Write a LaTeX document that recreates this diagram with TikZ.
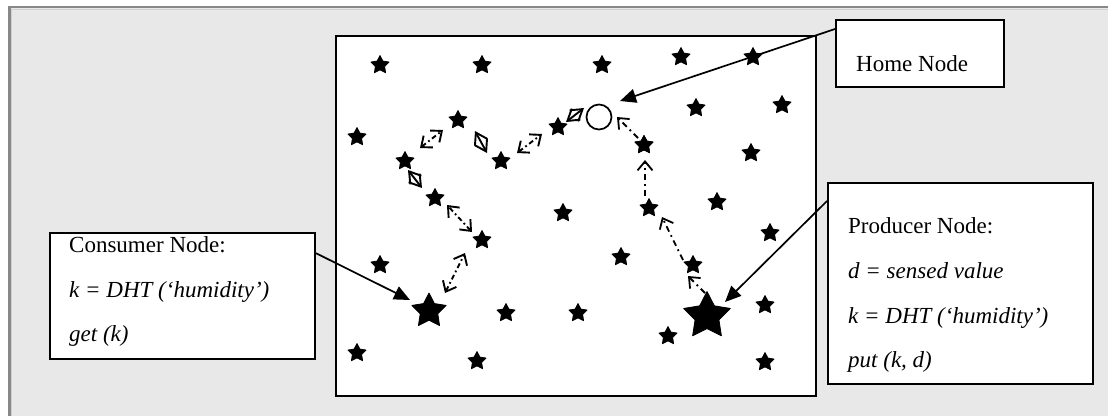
\documentclass[tikz,border=0pt]{standalone}
\usepackage{fontspec}
\setmainfont{Liberation Serif}
\usetikzlibrary{arrows.meta,shapes.geometric,calc}
\definecolor{bgray}{HTML}{E8E8E8}
\definecolor{fgray}{HTML}{888888}
\begin{document}
\begin{tikzpicture}[x=1pt,y=-1pt,
  sstar/.style={shape=star, star points=5, star point ratio=1.95, fill=black, draw=black, line width=0.8pt, line join=round, inner sep=0pt, minimum size=19pt},
  bstar/.style={sstar, minimum size=#1},
  box/.style={draw=black, fill=white, line width=1.6pt, inner sep=0pt, anchor=north west},
  txt/.style={anchor=base west, inner sep=0pt, font=\fontsize{23pt}{27pt}\selectfont},
  link/.style={line width=1.9pt, dash pattern=on 5pt off 3pt on 1.8pt off 3pt,
    {Straight Barb[length=9pt,width=15pt]}-{Straight Barb[length=9pt,width=15pt]}},
  dlink/.style={line width=1.9pt,
    {Straight Barb[length=11pt,width=14pt]}-{Straight Barb[length=11pt,width=14pt]}},
  plink/.style={line width=1.8pt, dash pattern=on 6pt off 4pt on 1.8pt off 4pt,
    -{Straight Barb[length=9pt,width=15pt]}},
  ptr/.style={line width=1.7pt, -{Triangle[length=16pt,width=14pt]}}
]
\useasboundingbox (0,0) rectangle (1108,416);
% background frame
\fill[white] (0,0) rectangle (1108,416);
\fill[bgray] (9,7) rectangle (1108,416);
\draw[fgray, line width=2.5pt] (9.5,416) -- (9.5,7) -- (1108,7);
\draw[black!18, line width=0.8pt] (11.5,416) -- (11.5,9) -- (1108,9);

% field
\node[box, line width=1.8pt, minimum width=480pt, minimum height=360pt] (field) at (335,35) {};

% small stars
\foreach \x/\y [count=\i] in {380/65,482/65,602/65,681/57,753/57,696/108,782/105,357/137,
  644/145,751/153,563/213,717/202,770/233,621/257,380/265,506/313,578/313,668/336,
  765/305,765/362,357/353,477/361}
  \node[sstar] (s\i) at (\x,\y) {};
% path stars
\node[sstar] (cA) at (482,240) {};
\node[sstar] (cB) at (435,198) {};
\node[sstar] (cC) at (405,161) {};
\node[sstar] (cD) at (458,120) {};
\node[sstar] (cE) at (501,161) {};
\node[sstar] (cF) at (558,127) {};
\node[sstar] (pA) at (693,265) {};
\node[sstar] (pB) at (649,208) {};
\node[sstar] (pC) at (644,145) {};
% big stars
\node[bstar=36pt] (cons) at (429,311) {};
\node[bstar=49pt] (prod) at (707,316) {};
% home node
\node[draw, circle, line width=1.7pt, minimum size=25pt, inner sep=0pt] (home) at (599,117) {};

% consumer path links
\draw[link] ($(cons)+(16,-18)$) -- ($(cons)+(36,-58)$);
\draw[link] ($(cA)+(-10,-8)$) -- ($(cA)+(-35,-35)$);
\draw[dlink] ($(cC)+(3,9)$) -- ($(cC)+(17,27)$);
\draw[link] ($(cC)+(15,-13)$) -- ($(cC)+(38,-31)$);
\draw[dlink] ($(cD)+(17,11)$) -- ($(cD)+(29,33)$);
\draw[link] ($(cE)+(16,-8)$) -- ($(cE)+(41,-27)$);
\draw[dlink] ($(cF)+(8,-5)$) -- ($(cF)+(26,-19)$);

% producer path links
\draw[plink] ($(prod)+(-2,-23)$) -- ($(prod)+(-19,-40)$);
\draw[plink] ($(pA)+(-10,-5)$) -- ($(pA)+(-31,-48)$);
\draw[plink] ($(pB)+(-4,-12)$) -- ($(pB)+(-4,-48)$);
\draw[plink] ($(pC)+(-6,-7)$) -- ($(pC)+(-27,-28)$);

% label boxes
\node[box, minimum width=168pt, minimum height=67pt] (hbox) at (835,19) {};
\node[box, minimum width=265pt, minimum height=126pt] (cbox) at (49,232) {};
\node[box, minimum width=265pt, minimum height=201pt] (pbox) at (827,182) {};

\node[txt] (ht) at (856,71) {Home Node};
\node[txt] (ct1) at (69,252) {Consumer Node:};
\node[txt] (ct2) at (69,297) {\itshape k = DHT (‘humidity’)};
\node[txt] (ct3) at (69,341) {\itshape get (k)};
\node[txt] (pt1) at (848,233) {Producer Node:};
\node[txt] (pt2) at (848,278) {\itshape d = sensed value};
\node[txt] (pt3) at (848,323) {\itshape k = DHT (‘humidity’)};
\node[txt] (pt4) at (848,367) {\itshape put (k, d)};

% pointers
\draw[ptr] ($(hbox.north west)+(0,10)$) -- ($(home)+(21,-16)$);
\draw[ptr] ($(cbox.north east)+(0,21)$) -- ($(cons)+(-19,-11)$);
\draw[ptr] ($(pbox.north west)+(0,19)$) -- ($(prod)+(18,-14)$);
\end{tikzpicture}
\end{document}
